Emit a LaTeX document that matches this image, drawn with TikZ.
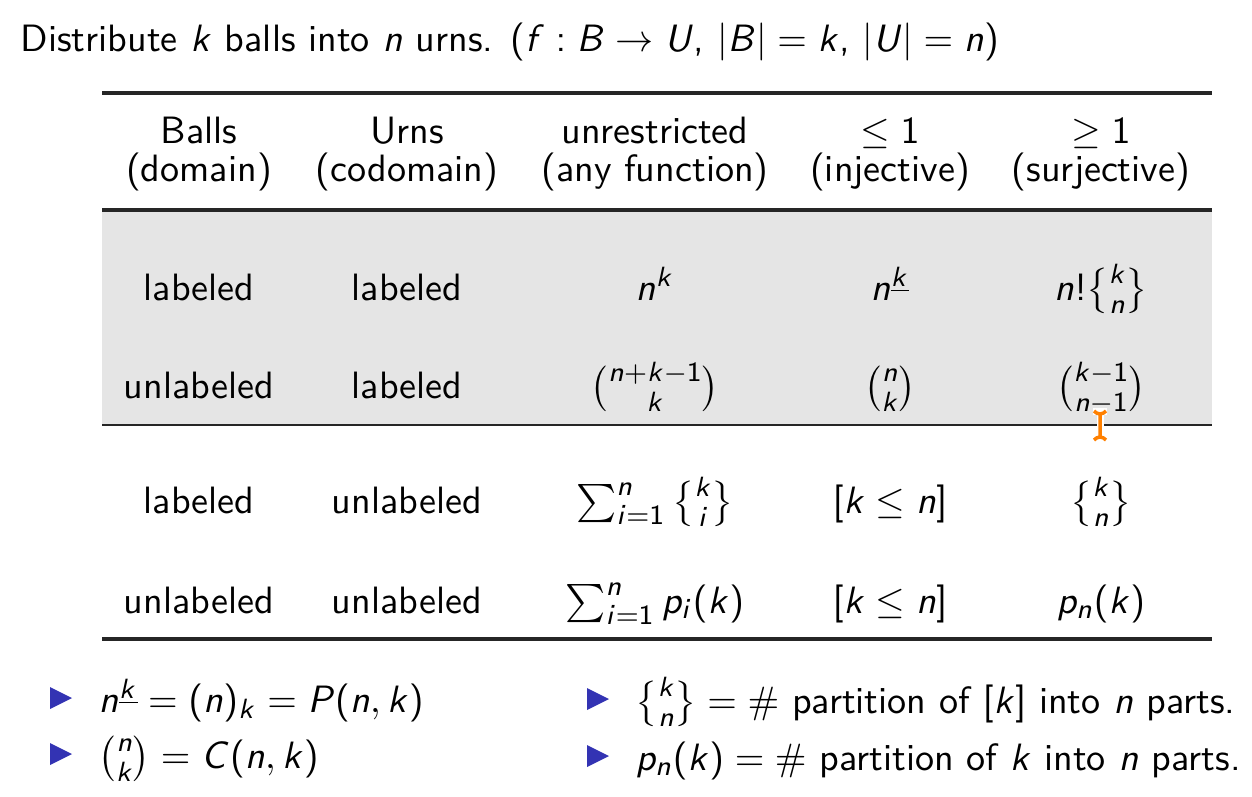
\documentclass[tikz,border=0pt]{standalone}
\usepackage{amsmath}
\usepackage{amssymb}
\usetikzlibrary{matrix}
\renewcommand\familydefault{\sfdefault}
\DeclareSymbolFont{sfletters}{OT1}{cmss}{m}{sl}
\SetSymbolFont{operators}{normal}{OT1}{cmss}{m}{n}
\newcommand\sfletter[1]{\DeclareMathSymbol{#1}{\mathalpha}{sfletters}{`#1}}
\sfletter{B}\sfletter{C}\sfletter{P}\sfletter{U}\sfletter{f}\sfletter{i}\sfletter{k}\sfletter{n}\sfletter{p}
\newcommand\stirlingtwo[2]{\genfrac\{\}{0pt}{}{#1}{#2}}
\newdimen\pxu \pxu=0.2875pt
\definecolor{beamerblue}{RGB}{51,51,179}
\definecolor{rowgray}{RGB}{229,229,229}
\definecolor{cursororange}{RGB}{255,128,0}
\tikzset{
  heavyrule/.style={line width=3.5\pxu,black!85},
  lightrule/.style={line width=2\pxu,black!85},
  cell/.style={inner sep=0pt,minimum height=0pt,text height=0pt,text depth=0pt},
  itemtri/.style={fill=beamerblue},
  bullettext/.style={anchor=base west,inner sep=0pt}
}

\begin{document}
\begin{tikzpicture}[x=1\pxu,y=-1\pxu,font=\fontsize{10.95}{13.6}\selectfont]
  \useasboundingbox (0,0) rectangle (1252,796);

  \node[anchor=base west,inner sep=0pt] (title) at (20,51) {Distribute $k$ balls into $n$ urns. ($f : B \to U$, $|B| = k$, $|U| = n$)};

  % shaded block (labeled urns)
  \fill[rowgray] (102,212) rectangle (1212,424);

  \matrix[matrix of nodes, anchor=north west, inner sep=0pt, outer sep=0pt, nodes={cell},
    column 1/.style={nodes={minimum width=194\pxu}},
    column 2/.style={nodes={minimum width=222\pxu}},
    column 3/.style={nodes={minimum width=274\pxu}},
    column 4/.style={nodes={minimum width=196\pxu}},
    column 5/.style={nodes={minimum width=226\pxu}}] (tab) at (102,143) {
    Balls     & Urns       & unrestricted   & $\leq 1$   & $\geq 1$ \\[38\pxu]
    (domain)  & (codomain) & (any function) & (injective) & (surjective) \\[119\pxu]
    labeled   & labeled    & $n^k$ & $n^{\underline{k}}$ & $n!\stirlingtwo{k}{n}$ \\[98\pxu]
    unlabeled & labeled    & $\binom{n+k-1}{k}$ & $\binom{n}{k}$ & $\binom{k-1}{n-1}$ \\[115\pxu]
    labeled   & unlabeled  & $\sum_{i=1}^n \stirlingtwo{k}{i}$ & $[k \leq n]$ & $\stirlingtwo{k}{n}$ \\[100\pxu]
    unlabeled & unlabeled  & $\sum_{i=1}^n p_i(k)$ & $[k \leq n]$ & $p_n(k)$ \\
  };

  % rules
  \draw[heavyrule] (102,93) -- (1212,93);
  \draw[heavyrule] (102,210) -- (1212,210);
  \draw[lightrule] (102,425) -- (1212,425);
  \draw[heavyrule] (102,639) -- (1212,639);

  % notes below
  \foreach \bx/\by in {61/698, 61/754, 598/699, 598/756}
    \fill[itemtri] (\bx-11,\by-11) -- (\bx+11,\by) -- (\bx-11,\by+11) -- cycle;
  \node[bullettext] (fall) at (98,712) {$n^{\underline{k}} = (n)_k = P(n,k)$};
  \node[bullettext] (choose) at (98,768) {$\binom{n}{k} = C(n,k)$};
  \node[bullettext] (stir) at (635,713) {$\stirlingtwo{k}{n} = \#$ partition of $[k]$ into $n$ parts.};
  \node[bullettext] (part) at (635,770) {$p_n(k) = \#$ partition of $k$ into $n$ parts.};

  % text cursor
  \draw[white,line width=7\pxu] (1100,414) -- (1100,437) (1093,411) -- (1107,411) (1093,440) -- (1107,440);
  \draw[cursororange,line width=3.5\pxu] (1100,414) -- (1100,437) (1094,411) to[bend right=20] (1100,414) to[bend right=20] (1106,411)
    (1094,440) to[bend left=20] (1100,437) to[bend left=20] (1106,440);
\end{tikzpicture}
\end{document}
